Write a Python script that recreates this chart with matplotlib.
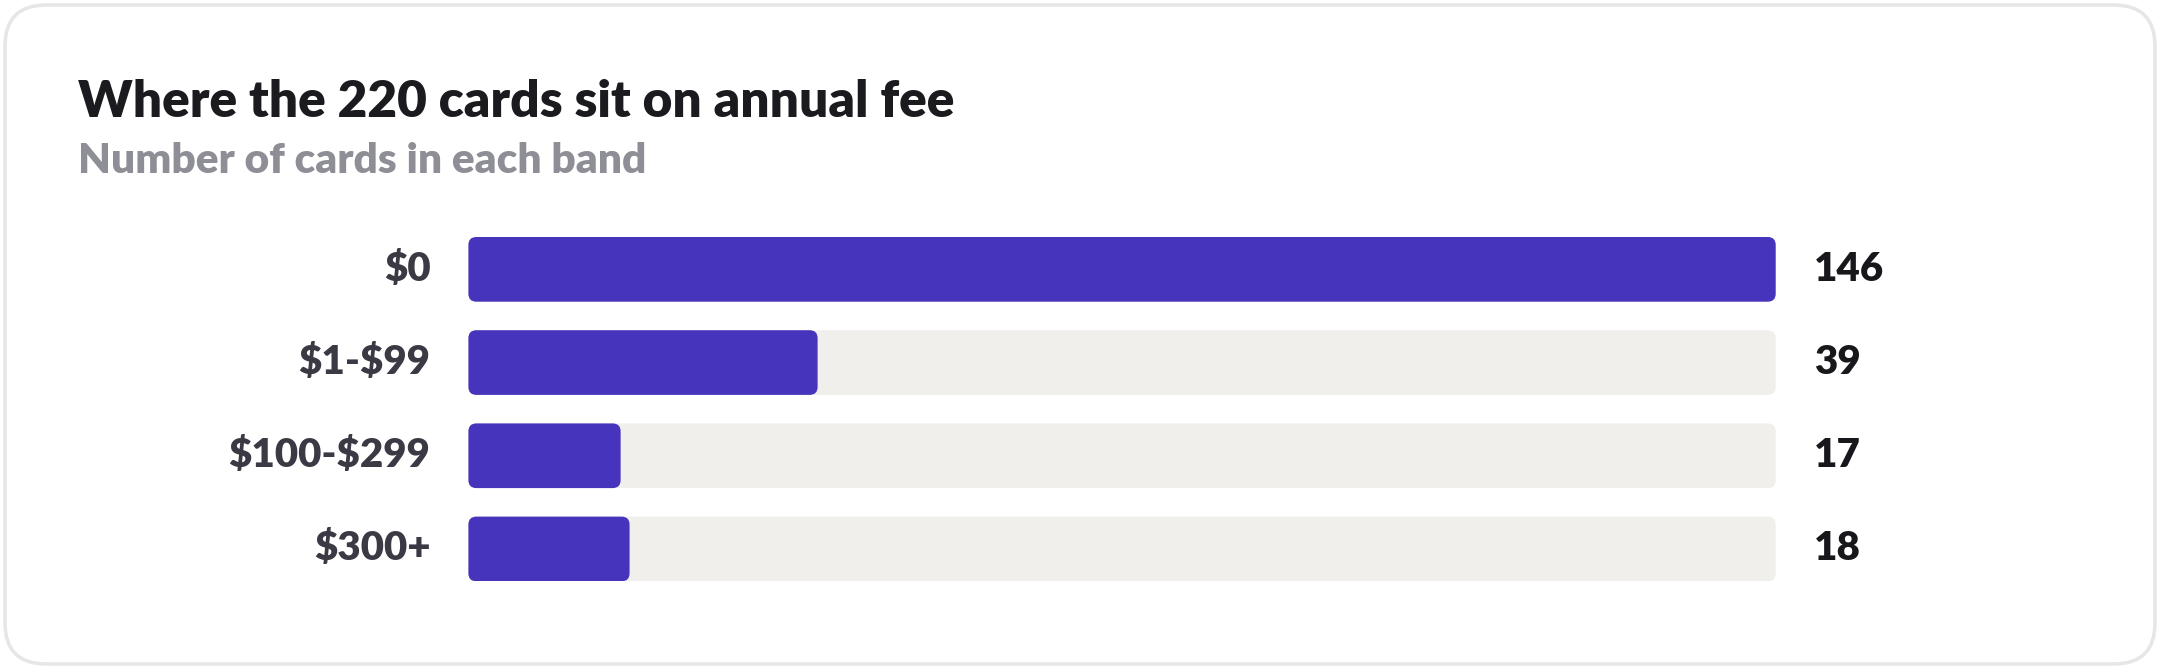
import matplotlib
matplotlib.use("Agg")
import matplotlib.pyplot as plt
from matplotlib.patches import FancyBboxPatch

plt.rcParams["text.parse_math"] = False

categories = ["$0", "$1-$99", "$100-$299", "$300+"]
counts = [146, 39, 17, 18]
title = "Where the 220 cards sit on annual fee"
subtitle = "Number of cards in each band"

W, H = 2160, 669
DPI = 100
fig = plt.figure(figsize=(W / DPI, H / DPI), dpi=DPI)
fig.patch.set_facecolor("white")

FONT = ["Lato", "DejaVu Sans"]

# card frame
card = FancyBboxPatch((5 / W, 5 / H), (W - 10) / W, (H - 10) / H,
                      boxstyle="round,pad=0,rounding_size=0.019",
                      mutation_aspect=W / H,
                      transform=fig.transFigure, facecolor="white",
                      edgecolor="#e6e6e6", linewidth=2.5, zorder=-10)
fig.patches.append(card)

fig.text(78 / W, 1 - 117 / H, title, fontsize=37, fontweight="heavy",
         color="#1a1a1f", family=FONT, ha="left", va="baseline")
fig.text(78 / W, 1 - 173 / H, subtitle, fontsize=30.5, fontweight="heavy",
         color="#8e8e96", family=FONT, ha="left", va="baseline")

left_px, right_px = 468.4, 1775.7
top_px, bot_px = 237.0, 581.3
ax = fig.add_axes([left_px / W, 1 - bot_px / H, (right_px - left_px) / W,
                   (bot_px - top_px) / H])
ax.set_zorder(5)
n = len(categories)
bh = 0.694
xmax = max(counts)
ax.set_xlim(0, xmax)
ax.set_ylim(n - 1 + bh / 2, -bh / 2)
ax.axis("off")

px_per_x = (right_px - left_px) / xmax
px_per_y = (bot_px - top_px) / (n - 1 + bh)
aspect = px_per_x / px_per_y
r = 8 / px_per_x

for i, (cat, v) in enumerate(zip(categories, counts)):
    track = FancyBboxPatch((0, i - bh / 2), xmax, bh,
                           boxstyle=f"round,pad=0,rounding_size={r}",
                           mutation_aspect=aspect, facecolor="#f0efec",
                           edgecolor="none")
    ax.add_patch(track)
    bar = FancyBboxPatch((0, i - bh / 2), v, bh,
                         boxstyle=f"round,pad=0,rounding_size={r}",
                         mutation_aspect=aspect, facecolor="#4634bc",
                         edgecolor="none")
    ax.add_patch(bar)
    ax.annotate(cat, xy=(0, i), xytext=(-38, 0), textcoords="offset pixels",
                ha="right", va="center", fontsize=29, fontweight="heavy",
                color="#3b3a44", family=FONT)
    ax.annotate(str(v), xy=(xmax, i), xytext=(38, 0), textcoords="offset pixels",
                ha="left", va="center", fontsize=29, fontweight="heavy",
                color="#18181c", family=FONT)

fig.savefig("out.png", dpi=DPI, facecolor="white")
